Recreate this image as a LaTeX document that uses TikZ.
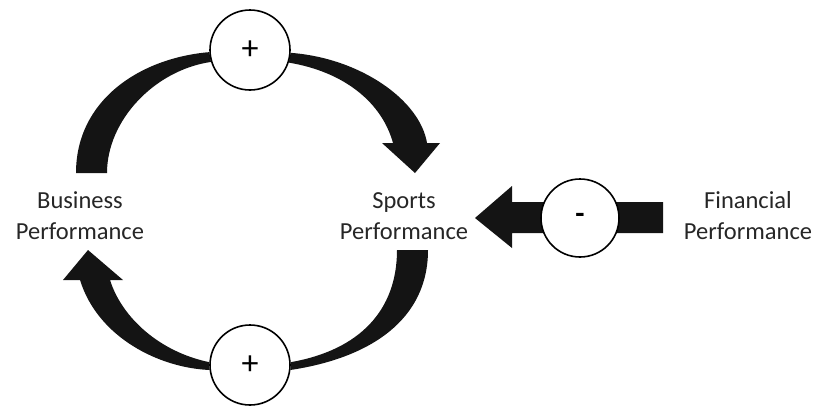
\documentclass[tikz,border=0pt]{standalone}
\usepackage{fontspec}
\setmainfont{Carlito}
\begin{document}
\begin{tikzpicture}[x=1pt,y=-1pt,
  sign/.style={circle,draw=black,line width=1.6pt,fill=white,minimum size=80pt,inner sep=0pt,font=\fontsize{34}{34}\selectfont},
  label/.style={align=center,text=black!85,font=\fontsize{24.5}{31}\selectfont},
  band/.style={fill=black!92,draw=none}]
\useasboundingbox (0,0) rectangle (816,408);
% labels
\node[label] (biz) at (80,216) {Business\\Performance};
\node[label] (spo) at (404,216) {Sports\\Performance};
\node[label] (fin) at (748,216) {Financial\\Performance};
% sign circles (positions)
\coordinate (ptc) at (250,50);
\coordinate (pbc) at (250,365);
\coordinate (nmc) at (580,218);
\path (ptc) node[sign,draw=none,fill=none] (pt) {};
\path (pbc) node[sign,draw=none,fill=none] (pb) {};
\path (nmc) node[sign,draw=none,fill=none,minimum size=78pt] (nm) {};
% top-left band: Business -> top circle
\fill[band] (76,173) .. controls (76,100) and (140,58) .. (pt.183)
  -- (pt.197) .. controls (155,70) and (107,120) .. (107,173) -- cycle;
% top-right band with head: top circle -> Sports
\fill[band] (pt.-4) .. controls (360,58) and (420,100) .. (427,143)
  -- (440,143) -- (415,173) -- (382,143) -- (393,143)
  .. controls (382,103) and (345,72) .. (pt.-18) -- cycle;
% bottom-right band: Sports -> bottom circle
\fill[band] (428,250) .. controls (428,320) and (370,358) .. (pb.-7)
  -- (pb.4) .. controls (360,350) and (397,310) .. (397,250) -- cycle;
% bottom-left band with head: bottom circle -> Business
\fill[band] (pb.187) .. controls (160,368) and (98,338) .. (80,280)
  -- (63,280) -- (88,250) -- (123,280) -- (110,280)
  .. controls (122,318) and (160,352) .. (pb.176) -- cycle;
% financial arrow
\fill[band] (663,202) -- (663,233) -- (nm.center |- 0,233) -- (512,233) -- (512,248)
  -- (475,218) -- (512,186) -- (512,202) -- (nm.center |- 0,202) -- cycle;
% circles on top
\node[sign] (ptn) at (ptc) {+};
\node[sign] (pbn) at (pbc) {+};
\node[sign,minimum size=78pt,font=\fontsize{30}{30}\selectfont\bfseries] (nmn) at (nmc) {-};
\end{tikzpicture}
\end{document}
